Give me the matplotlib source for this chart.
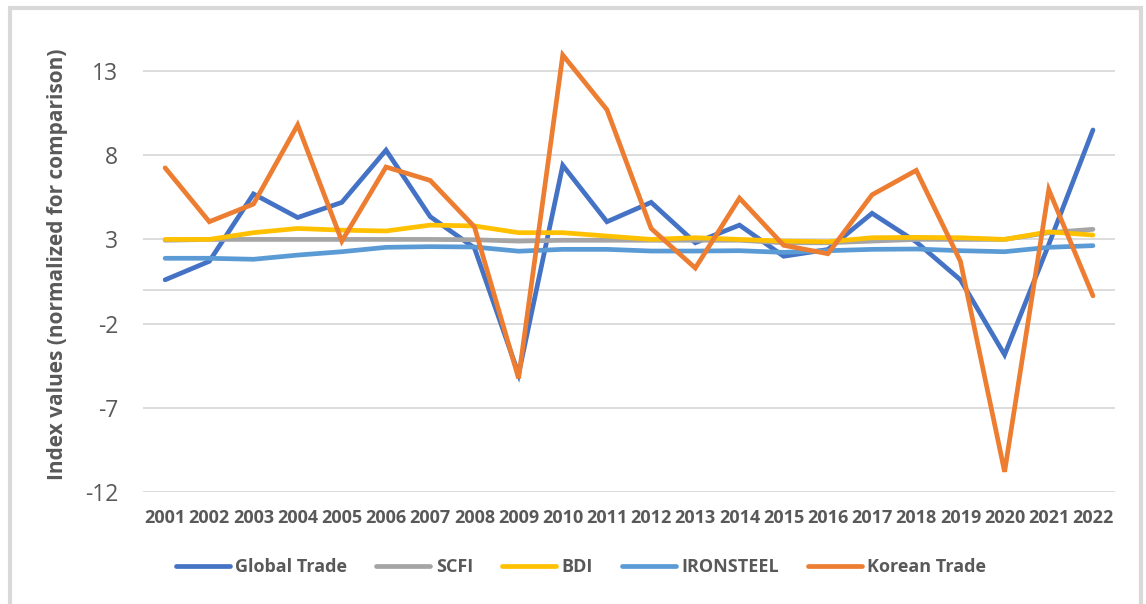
import numpy as np
import matplotlib.pyplot as plt
from matplotlib.patches import Rectangle

# values
years = ["2001", "2002", "2003", "2004", "2005", "2006", "2007", "2008", "2009", "2010", "2011",
         "2012", "2013", "2014", "2015", "2016", "2017", "2018", "2019", "2020", "2021", "2022"]

global_trade = [0.6, 1.7, 5.7, 4.3, 5.2, 8.3, 4.35, 2.5, -5.0, 7.4, 4.05,
                5.2, 2.8, 3.85, 2.0, 2.4, 4.55, 2.85, 0.6, -3.85, 2.7, 9.5]
scfi = [2.95, 3.0, 3.0, 3.0, 3.0, 3.0, 3.0, 2.98, 2.9, 2.95, 2.95,
        2.95, 2.95, 2.95, 2.8, 2.8, 2.9, 3.0, 3.0, 3.0, 3.4, 3.6]
bdi = [3.0, 3.0, 3.4, 3.65, 3.55, 3.5, 3.85, 3.8, 3.4, 3.4, 3.2,
       3.0, 3.1, 3.0, 2.9, 2.86, 3.1, 3.12, 3.1, 3.0, 3.45, 3.26]
ironsteel = [1.88, 1.88, 1.82, 2.07, 2.27, 2.53, 2.57, 2.55, 2.3, 2.41, 2.41,
             2.31, 2.31, 2.33, 2.23, 2.33, 2.41, 2.43, 2.33, 2.27, 2.53, 2.63]
korean_trade = [7.25, 4.05, 5.1, 9.8, 2.9, 7.3, 6.5, 3.75, -5.25, 13.95, 10.7,
                3.65, 1.3, 5.45, 2.65, 2.15, 5.65, 7.1, 1.7, -10.8, 5.95, -0.35]

series = [
    ("Global Trade", global_trade, "#4472C4"),
    ("SCFI", scfi, "#A5A5A5"),
    ("BDI", bdi, "#FFC000"),
    ("IRONSTEEL", ironsteel, "#5B9BD5"),
    ("Korean Trade", korean_trade, "#ED7D31"),
]

plt.rcParams['font.family'] = ['Open Sans', 'DejaVu Sans']
plt.rcParams['axes.unicode_minus'] = False

fig = plt.figure(figsize=(11.46, 6.04), dpi=100)
ax = fig.add_axes([0.1248, 0.1854, 0.8482, 0.7528])

x = np.arange(len(years))
for name, vals, col in series:
    ax.plot(x, vals, color=col, lw=3.4, label=name, solid_capstyle='round',
            solid_joinstyle='miter', clip_on=False, zorder=3)

ax.set_xlim(-0.5, len(years) - 0.5)
ax.set_ylim(-12, 15)
ax.set_yticks([-12, -7, -2, 3, 8, 13])
ax.set_xticks(x)
ax.set_xticklabels(years, fontsize=13, fontweight='bold', color='#595959')
ax.tick_params(axis='y', length=0, pad=18, labelsize=16.5, labelcolor='#595959')
ax.tick_params(axis='x', length=0, pad=12)

for v in [-12, -7, -2, 3, 8, 13]:
    ax.axhline(v, color='#D9D9D9', lw=1.3, zorder=1)
ax.axhline(0, color='#D9D9D9', lw=1.3, zorder=1)

for s in ax.spines.values():
    s.set_visible(False)

ax.set_ylabel("Index values (normalized for comparison)", fontsize=15, fontweight='bold',
              color='#595959', labelpad=12)

fig.legend(loc='center', bbox_to_anchor=(0.507, 0.061), ncol=5, frameon=False,
           prop={'size': 13, 'weight': 'bold'}, labelcolor='#595959',
           handlelength=3.0, handletextpad=0.3, columnspacing=1.6)

fig.patches.append(Rectangle((10 / 1146, -0.02), 1131 / 1146, 1.0 - 8 / 604 + 0.02,
                             transform=fig.transFigure, fill=False,
                             edgecolor='#D9D9D9', lw=3, zorder=0))

plt.savefig("out.png", dpi=100)
